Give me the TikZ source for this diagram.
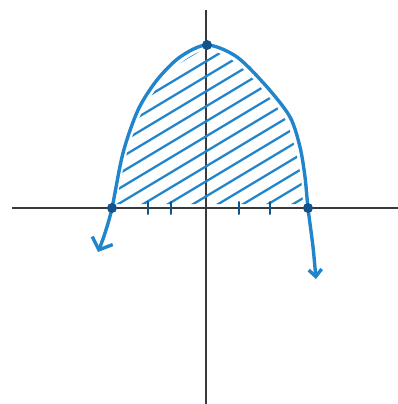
\documentclass[tikz,border=0pt]{standalone}
\usepackage{tikz}
\usetikzlibrary{arrows.meta}
\definecolor{HandBlue}{rgb}{0.13, 0.52, 0.80}
\definecolor{DarkBlue}{rgb}{0.08, 0.32, 0.55}
\definecolor{AxisGray}{rgb}{0.22, 0.22, 0.24}

\begin{document}
\begin{tikzpicture}[
    x=1pt, y=-1pt,
    axis/.style={draw=AxisGray, line width=1.3pt},
    curve/.style={draw=HandBlue, line width=3.4pt, line cap=round, line join=round},
    hatch/.style={draw=HandBlue, line width=2.3pt, line cap=round},
    tick/.style={draw=DarkBlue, line width=2pt, line cap=round},
    dot/.style={circle, fill=DarkBlue, inner sep=0pt, minimum size=10pt},
]
\useasboundingbox (0,0) rectangle (398,404);

% ---- ejes ----
\coordinate (xl) at (12,208);
\coordinate (xr) at (398,208);
\coordinate (yt) at (206,10);
\coordinate (yb) at (206,404);
\draw[axis] (xl) -- (xr);
\draw[axis] (yt) -- (yb);

% ---- rayado ----
\begin{scope}
    \clip plot[smooth] coordinates {(116,204) (127,153) (142,112) (160,84)
        (182,62) (207,50) (235,62) (263,90) (285,119) (295,148) (301,178) (303,204)}
        -- cycle;
    \foreach \c in {110,125,...,320}
        \draw[hatch] (100,\c) -- (320,\c-132);
\end{scope}

% ---- parabola ----
\draw[curve, {Straight Barb[length=10pt, width=22pt]}-{Straight Barb[length=7pt, width=13pt]}]
    plot[smooth] coordinates {(98,252) (105,233) (112,208) (123,153) (138,110)
        (157,80) (180,57) (207,45) (237,57) (267,87) (290,117) (300,147)
        (305,177) (308,208) (313,247) (316,279)};

% ---- marcas ----
\foreach \x in {148,171,239,270}
    \draw[tick] (\x,202) -- (\x,214);

% ---- puntos ----
\node[dot] (vertex) at (207,45) {};
\node[dot] (rootL) at (112,208) {};
\node[dot] (rootR) at (308,208) {};

\end{tikzpicture}
\end{document}
